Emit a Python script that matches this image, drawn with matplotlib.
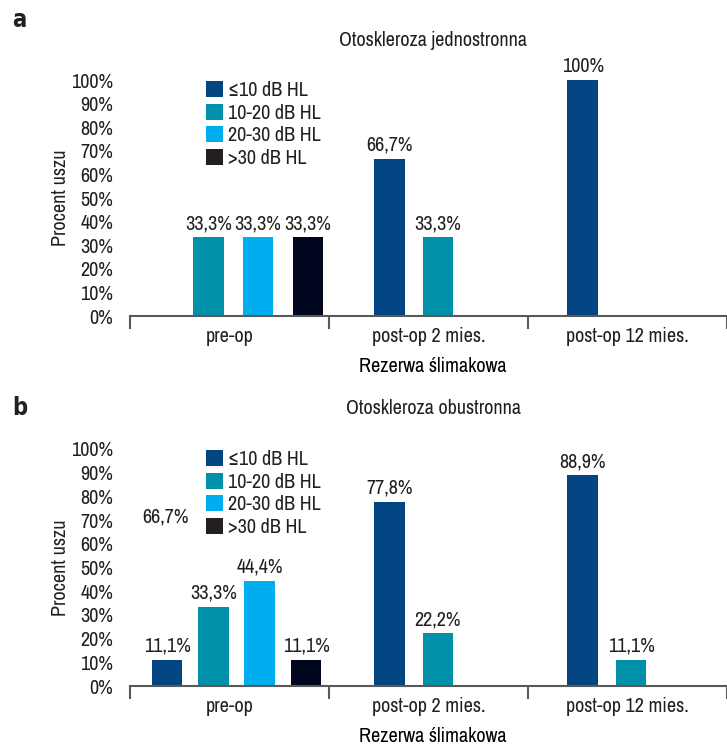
import matplotlib
matplotlib.use("Agg")
import matplotlib.pyplot as plt
from matplotlib import font_manager
from matplotlib.patches import Patch

# --- data -------------------------------------------------------------
categories = ["pre-op", "post-op 2 mies.", "post-op 12 mies."]
series = ["\u226410 dB HL", "10-20 dB HL", "20-30 dB HL", ">30 dB HL"]

# Otoskleroza jednostronna (percent of ears)
uni_le10 = [0.0, 66.7, 100.0]
uni_10_20 = [33.3, 33.3, 0.0]
uni_20_30 = [33.3, 0.0, 0.0]
uni_gt30 = [33.3, 0.0, 0.0]

# Otoskleroza obustronna (percent of ears)
bi_le10 = [11.1, 77.8, 88.9]
bi_10_20 = [33.3, 22.2, 11.1]
bi_20_30 = [44.4, 0.0, 0.0]
bi_gt30 = [11.1, 0.0, 0.0]

yticks = [0, 10, 20, 30, 40, 50, 60, 70, 80, 90, 100]
ytick_labels = [f"{v}%" for v in yticks]

# --- style ------------------------------------------------------------
bar_colors = ["#034582", "#0090aa", "#00adee", "#01061f"]
legend_colors = ["#034582", "#0090aa", "#00adee", "#231f20"]
text_color = "#231f20"
axis_color = "#595959"

# prefer a condensed sans face when one is installed
rank = {"condensed": 0, "semi-condensed": 1, "extra-condensed": 2}
best = None
for f in font_manager.fontManager.ttflist:
    if f.style != "normal" or f.weight not in ("normal", "regular", 400):
        continue
    if "Mono" in f.name or "Serif" in f.name or "CJK" in f.name:
        continue
    st = f.stretch if isinstance(f.stretch, str) else None
    if st not in rank:
        continue
    key = (rank[st], f.name)
    if best is None or key < best[0]:
        best = (key, f.name, st)

if best:
    plt.rcParams["font.family"] = [best[1], "DejaVu Sans"]
    plt.rcParams["font.stretch"] = best[2]
    FS = 14.5
else:
    plt.rcParams["font.family"] = ["Liberation Sans", "DejaVu Sans"]
    FS = 13
plt.rcParams["text.color"] = text_color

W, H = 727, 747
fig = plt.figure(figsize=(W / 100, H / 100), dpi=100)


def fmt(v):
    s = f"{v:.1f}".replace(".", ",")
    if s.endswith(",0"):
        s = s[:-2]
    return s + "%"


def panel(bottom_px, top_px, values, first, step, title, letter, letter_y, extra=None):
    left_px = 130
    ax = fig.add_axes([left_px / W, (H - bottom_px) / H,
                       1 - left_px / W, (bottom_px - top_px) / H])
    span = (W - left_px) / 202.0
    ax.set_xlim(0, span)
    ax.set_ylim(0, 100)
    bw = 31 / 202.0
    for k, vals in enumerate(values):
        for g, v in enumerate(vals):
            if v <= 0:
                continue
            x = g + first[g] + k * step[g]
            ax.bar(x, v, width=bw, color=bar_colors[k], zorder=2)
            ax.annotate(fmt(v), (x, v), xytext=(0, 3), textcoords="offset points",
                        ha="center", va="bottom", fontsize=FS, color=text_color,
                        annotation_clip=False)
    for s in ["top", "right", "left"]:
        ax.spines[s].set_visible(False)
    ax.spines["bottom"].set_color(axis_color)
    ax.spines["bottom"].set_linewidth(1.5)
    ax.spines["bottom"].set_zorder(3)
    ax.set_yticks(yticks)
    ax.set_yticklabels(ytick_labels, fontsize=FS)
    ax.tick_params(axis="y", length=0, pad=12, colors=text_color)
    ax.set_xticks([0, 1, 2, 3])
    ax.set_xticklabels([])
    ax.tick_params(axis="x", which="major", direction="out", length=9,
                   width=1.5, color=axis_color)
    ax.set_xticks([0.5, 1.5, 2.5], minor=True)
    ax.set_xticklabels(categories, minor=True, fontsize=FS)
    ax.tick_params(axis="x", which="minor", length=0, pad=8, colors=text_color)
    ax.set_xlabel("Rezerwa \u015blimakowa", fontsize=FS)
    ax.xaxis.set_label_coords((433 - left_px) / (W - left_px),
                              -50 / (bottom_px - top_px))
    ax.xaxis.label.set_va("center")
    fig.text(60 / W, 1 - ((top_px + bottom_px) / 2) / H, "Procent uszu",
             rotation=90, ha="center", va="center", fontsize=FS)
    fig.text(433 / W, 1 - (top_px - 40) / H, title, ha="center", va="center",
             fontsize=FS)
    fig.text(12 / W, 1 - letter_y / H, letter, ha="left", va="center",
             fontsize=17, fontweight="bold", family="DejaVu Sans")
    handles = [Patch(facecolor=c, edgecolor="none") for c in legend_colors]
    ax.legend(handles, series, loc="upper left",
              bbox_to_anchor=((206 - left_px) / (W - left_px), 1 - 1 / (bottom_px - top_px)),
              frameon=False, fontsize=FS, handlelength=0.85, handleheight=0.85,
              handletextpad=0.25, labelspacing=0.18, borderpad=0, borderaxespad=0)
    if extra is not None:
        for (xv, yv, txt) in extra:
            ax.text(xv, yv, txt, ha="center", va="center", fontsize=FS)
    return ax


panel(316, 80,
      [uni_le10, uni_10_20, uni_20_30, uni_gt30],
      first=[0.144, 0.304, 0.275], step=[0.25, 0.243, 0.243],
      title="Otoskleroza jednostronna", letter="a", letter_y=20)

stray_label = [(0.178, 71.3, "66,7%")]
panel(686, 449,
      [bi_le10, bi_10_20, bi_20_30, bi_gt30],
      first=[0.186, 0.304, 0.275], step=[0.233, 0.243, 0.243],
      title="Otoskleroza obustronna", letter="b", letter_y=408,
      extra=stray_label)

fig.savefig("out.png", dpi=100)
